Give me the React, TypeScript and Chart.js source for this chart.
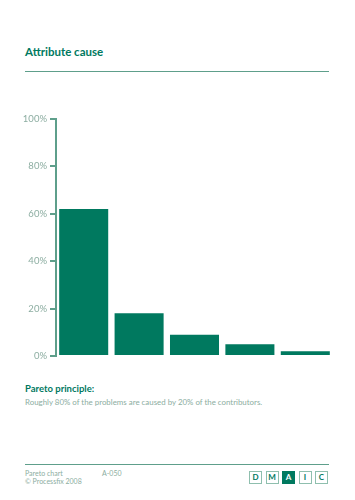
import React, { useEffect, useRef } from "react";
import { Chart, registerables } from "chart.js";

Chart.register(...registerables);

const categories = ["Cause 1", "Cause 2", "Cause 3", "Cause 4", "Cause 5"];
const shares = [62, 18, 9, 5, 2];
const tickValues = [0, 20, 40, 60, 80, 100];
const dmaicLetters = ["D", "M", "A", "I", "C"];

const DARK = "#00795f";
const LINE = "#5e9f8b";
const GREY = "#8cada1";
const FONT = "Lato, 'DejaVu Sans', sans-serif";

function ParetoChart() {
  const ref = useRef<HTMLCanvasElement | null>(null);
  useEffect(() => {
    if (!ref.current) return;
    const chart = new Chart(ref.current, {
      type: "bar",
      data: {
        labels: categories,
        datasets: [
          {
            data: shares,
            backgroundColor: DARK,
            borderWidth: 0,
            barPercentage: 0.885,
            categoryPercentage: 1,
          },
        ],
      },
      options: {
        animation: false,
        responsive: false,
        maintainAspectRatio: false,
        layout: { padding: { left: 0, right: 22, top: 19, bottom: 14 } },
        plugins: { legend: { display: false }, tooltip: { enabled: false } },
        scales: {
          x: { display: false, offset: true },
          y: {
            min: 0,
            max: 100,
            afterFit: (s: any) => {
              s.width = 56;
            },
            afterBuildTicks: (s: any) => {
              s.ticks = tickValues.map((v) => ({ value: v }));
            },
            border: { display: true, color: LINE, width: 2 },
            grid: {
              display: true,
              drawOnChartArea: false,
              drawTicks: true,
              tickLength: 6,
              color: LINE,
              lineWidth: 2,
            },
            ticks: {
              padding: 3,
              color: GREY,
              font: { family: FONT, size: 9.5 },
              callback: (v: any) => v + "%",
            },
          },
        },
      },
    });
    return () => chart.destroy();
  }, []);
  return (
    <canvas
      ref={ref}
      width={355}
      height={270}
      style={{ position: "absolute", left: 0, top: 100, width: 355, height: 270 }}
    />
  );
}

export default function App() {
  const abs = (o: React.CSSProperties): React.CSSProperties => ({
    position: "absolute",
    whiteSpace: "nowrap",
    fontFamily: FONT,
    ...o,
  });
  return (
    <div
      style={{
        position: "absolute",
        left: 0,
        top: 0,
        width: 355,
        height: 500,
        background: "#fff",
        overflow: "hidden",
      }}
    >
      <div style={abs({ left: 25, top: 46, fontSize: 11.5, lineHeight: "12px", fontWeight: 700, color: DARK })}>
        Attribute cause
      </div>
      <div style={abs({ left: 25, top: 70.5, width: 304, height: 1.5, background: LINE })} />
      <ParetoChart />
      <div style={abs({ left: 25, top: 384, fontSize: 9.5, lineHeight: "10px", fontWeight: 700, color: DARK })}>
        Pareto principle:
      </div>
      <div style={abs({ left: 25, top: 397, fontSize: 7.9, lineHeight: "10px", color: GREY })}>
        Roughly 80% of the problems are caused by 20% of the contributors.
      </div>
      <div style={abs({ left: 25, top: 463.5, width: 304, height: 1.5, background: LINE })} />
      <div style={abs({ left: 25, top: 469, fontSize: 7, lineHeight: "8px", color: GREY })}>Pareto chart</div>
      <div style={abs({ left: 102, top: 469, fontSize: 7, lineHeight: "8px", color: GREY })}>A-050</div>
      <div style={abs({ left: 25, top: 477, fontSize: 7, lineHeight: "8px", color: GREY })}>© Processfix 2008</div>
      {dmaicLetters.map((l, i) => (
        <div
          key={l}
          style={abs({
            left: 249 + i * 16.5,
            top: 471,
            width: 13,
            height: 13,
            boxSizing: "border-box",
            border: `1px solid ${l === "A" ? DARK : "#8fbfae"}`,
            background: l === "A" ? DARK : "#fff",
            color: l === "A" ? "#fff" : DARK,
            fontSize: 8,
            fontWeight: 700,
            lineHeight: "11px",
            textAlign: "center",
          })}
        >
          {l}
        </div>
      ))}
    </div>
  );
}
